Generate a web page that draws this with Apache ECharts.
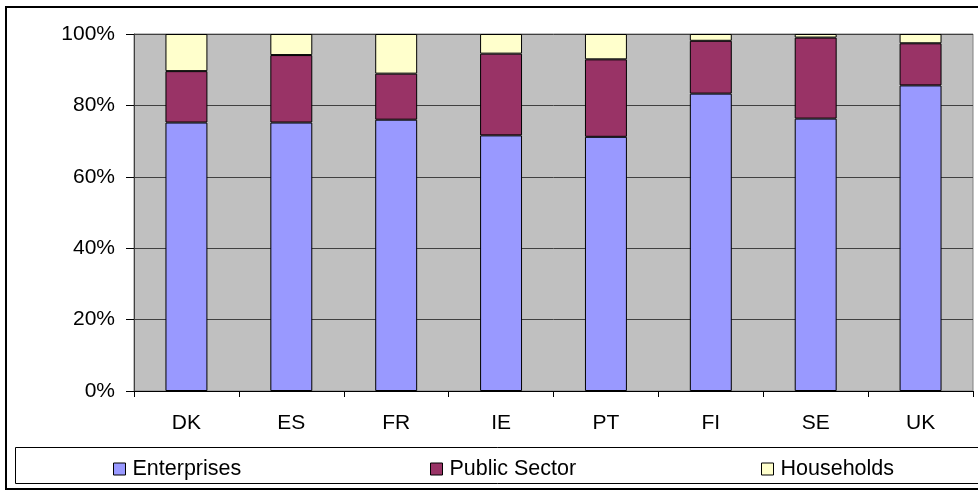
<!DOCTYPE html>
<html>
<head>
<meta charset="utf-8">
<script src="https://cdn.jsdelivr.net/npm/echarts@6/dist/echarts.min.js"></script>
<style>
  html, body { margin: 0; padding: 0; background: #fff; }
  #chart { width: 978px; height: 491px; }
</style>
</head>
<body>
<div id="chart"></div>
<script>
// countries
const countries = ['DK', 'ES', 'FR', 'IE', 'PT', 'FI', 'SE', 'UK'];
// shares in %
const enterprises = [75.2, 75.2, 76.0, 71.6, 71.2, 83.3, 76.3, 85.6];
const publicSector = [14.4, 18.9, 12.9, 22.9, 21.7, 14.8, 22.7, 11.8];
const households = [10.4, 5.9, 11.1, 5.5, 7.1, 1.9, 1.0, 2.6];
const yTicks = [0, 20, 40, 60, 80, 100];

const font = 'Liberation Sans, Arial, sans-serif';
const chart = echarts.init(document.getElementById('chart'));

const barStyle = (color) => ({ color: color, borderColor: '#000', borderWidth: 1 });

const option = {
  animation: false,
  backgroundColor: '#fff',
  grid: {
    left: 134, right: 5, top: 34, bottom: 100,
    show: true,
    backgroundColor: '#c0c0c0',
    borderColor: '#808080',
    borderWidth: 1
  },
  graphic: [
    {
      type: 'rect',
      shape: { x: 6, y: 7, width: 980, height: 482 },
      style: { fill: 'none', stroke: '#000', lineWidth: 2 },
      silent: true
    },
    {
      type: 'rect',
      shape: { x: 15.5, y: 447.5, width: 970, height: 36 },
      style: { fill: 'none', stroke: '#000', lineWidth: 1 },
      silent: true
    }
  ],
  legend: [
    { data: ['Enterprises'], left: 108 },
    { data: ['Public Sector'], left: 425 },
    { data: ['Households'], left: 756 }
  ].map(l => Object.assign(l, {
    top: 453,
    itemWidth: 12,
    itemHeight: 12,
    itemGap: 0,
    icon: 'rect',
    textStyle: { fontFamily: font, fontSize: 21.5, color: '#000', padding: [0, 0, 0, 2] },
    itemStyle: { borderColor: '#000', borderWidth: 1 }
  })),
  xAxis: {
    type: 'category',
    data: countries,
    boundaryGap: true,
    axisLine: { show: true, lineStyle: { color: '#000', width: 1 } },
    axisTick: { show: true, length: 6, inside: false, lineStyle: { color: '#000' } },
    axisLabel: { fontFamily: font, fontSize: 21, color: '#000', margin: 22 },
    splitLine: { show: false }
  },
  yAxis: {
    type: 'value',
    min: 0,
    max: 100,
    interval: 20,
    axisLine: { show: true, lineStyle: { color: '#404040', width: 1 } },
    axisTick: { show: true, length: 8, lineStyle: { color: '#000' } },
    axisLabel: {
      fontFamily: font, fontSize: 21, color: '#000', margin: 19,
      formatter: (v) => yTicks.includes(v) ? v + '%' : ''
    },
    splitLine: { show: true, lineStyle: { color: '#404040', width: 1 } }
  },
  series: [
    { name: 'Enterprises', type: 'bar', stack: 'total', data: enterprises, barWidth: '40%', itemStyle: barStyle('#9999ff') },
    { name: 'Public Sector', type: 'bar', stack: 'total', data: publicSector, barWidth: '40%', itemStyle: barStyle('#993366') },
    { name: 'Households', type: 'bar', stack: 'total', data: households, barWidth: '40%', itemStyle: barStyle('#ffffcc') }
  ]
};

chart.setOption(option);
</script>
</body>
</html>
